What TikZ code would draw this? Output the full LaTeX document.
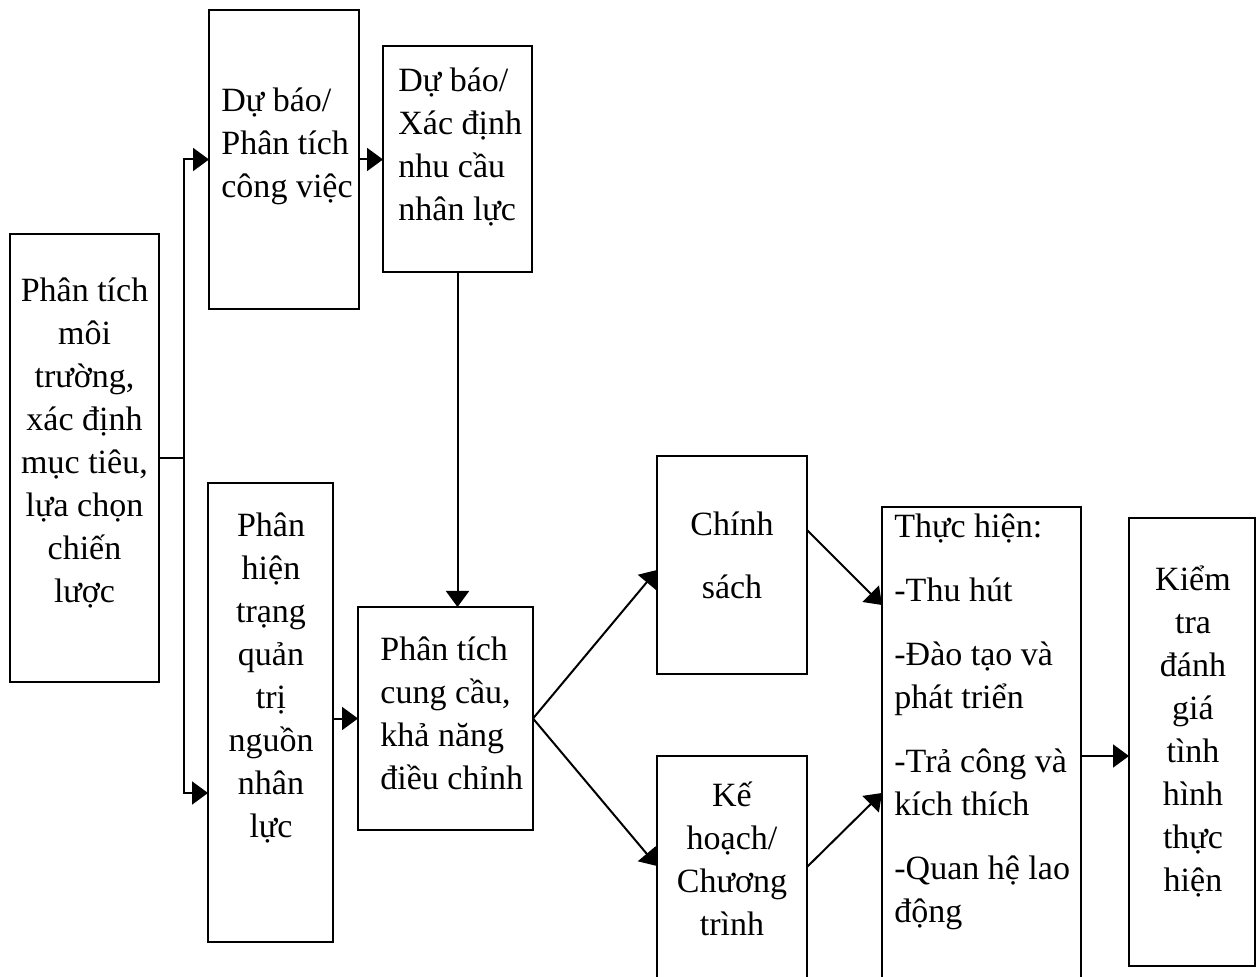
\documentclass[tikz,border=0pt]{standalone}
\usepackage{fontspec}
\setmainfont{Liberation Serif}
\usetikzlibrary{arrows.meta}
\newcommand\lnstrut{\rule{0pt}{18pt}}
\begin{document}
\begin{tikzpicture}[x=0.5pt,y=-0.5pt,
  box/.style={draw, line width=1.1pt, inner sep=0pt, outer sep=0pt},
  txt/.style={inner sep=0pt, font=\fontsize{17}{21.5}\selectfont},
  link/.style={line width=1pt},
  arr/.style={line width=1pt, -{Triangle[length=8pt,width=11.5pt]}}]
\useasboundingbox (0,0) rectangle (1257,977);
\clip (0,0) rectangle (1257,977);

% boxes
\node[box, minimum width=74.5pt, minimum height=224pt] (A) at (84.5,458) {};
\node[box, minimum width=75pt,   minimum height=149.5pt] (B) at (284,159.5) {};
\node[box, minimum width=74.5pt, minimum height=113pt] (C) at (457.5,159) {};
\node[box, minimum width=62.5pt, minimum height=229.5pt] (D) at (270.5,712.5) {};
\node[box, minimum width=87.5pt, minimum height=111.5pt] (E) at (445.5,718.5) {};
\node[box, minimum width=75pt,   minimum height=109pt] (F) at (732,565) {};
\node[box, minimum width=75pt,   minimum height=127pt] (G) at (732,883) {};
\node[box, minimum width=99.5pt, minimum height=251.5pt] (H) at (981.5,758.5) {};
\node[box, minimum width=63pt,   minimum height=224pt] (I) at (1192,742) {};

% texts
\node[txt, anchor=north, align=center] (tA) at (84.5,265)
  {\lnstrut Phân tích\\môi\\trường,\\xác định\\mục tiêu,\\lựa chọn\\chiến\\lược};
\node[txt, anchor=north west, align=left] (tB) at (221,75)
  {\lnstrut Dự báo/\\Phân tích\\công việc};
\node[txt, anchor=north west, align=left] (tC) at (398,55.5)
  {\lnstrut Dự báo/\\Xác định\\nhu cầu\\nhân lực};
\node[txt, anchor=north, align=center] (tD) at (271,500)
  {\lnstrut Phân\\hiện\\trạng\\quản\\trị\\nguồn\\nhân\\lực};
\node[txt, anchor=north west, align=left] (tE) at (380,624)
  {\lnstrut Phân tích\\cung cầu,\\khả năng\\điều chỉnh};
\node[txt, anchor=north, align=center] (tF) at (732,499)
  {\lnstrut Chính\\[10pt]sách};
\node[txt, anchor=north, align=center] (tG) at (732,770)
  {\lnstrut Kế\\hoạch/\\Chương\\trình};
\node[txt, anchor=north west, align=left] (tH) at (894,501)
  {\lnstrut Thực hiện:\\[10.5pt]-Thu hút\\[10.5pt]-Đào tạo và\\phát triển\\[10.5pt]-Trả công và\\kích thích\\[10.5pt]-Quan hệ lao\\động};
\node[txt, anchor=north, align=center] (tI) at (1193,554)
  {\lnstrut Kiểm\\tra\\đánh\\giá\\tình\\hình\\thực\\hiện};

% connectors
\coordinate (jn) at (184,458);
\draw[link] (A.east) -- (jn);
\draw[arr] (jn) |- (B.west);
\draw[arr] (jn) |- ([yshift=-40.25pt]D.west);
\draw[arr] (B.east) -- (C.west |- B.east);
\draw[arr] (C.south) -- (C.south |- E.north);
\draw[arr] (D.east |- E.west) -- (E.west);
\draw[arr] (E.east) -- ([yshift=-2.5pt]F.west);
\draw[arr] (E.east) -- ([yshift=-55pt]G.north west);
\draw[arr] ([yshift=-37pt]F.north east) -- ([yshift=-49pt]H.north west);
\draw[arr] ([yshift=-55.5pt]G.north east) -- ([yshift=-143pt]H.north west);
\coordinate (hOut) at ([yshift=-124.5pt]H.north east);
\draw[arr] (hOut) -- (hOut -| I.west);
\end{tikzpicture}
\end{document}
